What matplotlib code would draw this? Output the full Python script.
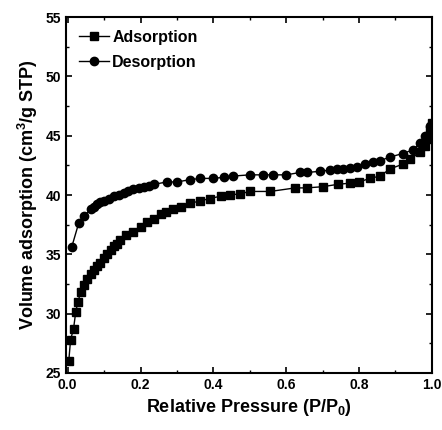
import numpy as np
import matplotlib
matplotlib.use('Agg')
import matplotlib.pyplot as plt
from matplotlib.ticker import MultipleLocator

plt.rcParams['font.family'] = ['Liberation Sans', 'DejaVu Sans']
plt.rcParams['font.weight'] = 'bold'
plt.rcParams['axes.labelweight'] = 'bold'
plt.rcParams['mathtext.default'] = 'regular'

# 吸附支 (P/P0, V)
ads_p = [0.003, 0.008, 0.016, 0.022, 0.028, 0.036, 0.045, 0.054, 0.063, 0.072, 0.081,
         0.09, 0.1, 0.109, 0.118, 0.127, 0.136, 0.145, 0.16, 0.18, 0.2, 0.218, 0.236,
         0.255, 0.27, 0.29, 0.31, 0.336, 0.364, 0.39, 0.42, 0.445, 0.474, 0.5,
         0.556, 0.625, 0.657, 0.70, 0.742, 0.775, 0.80, 0.83, 0.858, 0.885, 0.92,
         0.94, 0.967, 0.98, 0.99, 0.995, 1.0]
ads_v = [26.0, 27.8, 28.7, 30.1, 31.0, 31.8, 32.4, 32.9, 33.3, 33.7, 34.0,
         34.3, 34.7, 35.0, 35.4, 35.7, 35.9, 36.2, 36.6, 36.9, 37.3, 37.7, 38.0,
         38.4, 38.6, 38.8, 39.0, 39.3, 39.5, 39.7, 39.9, 40.0, 40.1, 40.3,
         40.3, 40.6, 40.6, 40.7, 40.9, 41.0, 41.1, 41.4, 41.6, 42.2, 42.6,
         43.0, 43.6, 44.1, 44.7, 45.5, 46.1]

# 脱附支
des_p = [0.011, 0.03, 0.044, 0.063, 0.072, 0.08, 0.09, 0.1, 0.113, 0.127, 0.14,
         0.154, 0.167, 0.18, 0.195, 0.21, 0.223, 0.236, 0.273, 0.30, 0.337, 0.364,
         0.40, 0.43, 0.455, 0.50, 0.537, 0.565, 0.60, 0.638, 0.657, 0.693, 0.72,
         0.74, 0.757, 0.775, 0.794, 0.816, 0.838, 0.858, 0.885, 0.92, 0.948,
         0.967, 0.98, 0.995]
des_v = [35.6, 37.6, 38.2, 38.8, 39.0, 39.2, 39.4, 39.5, 39.7, 39.9, 40.0,
         40.2, 40.3, 40.5, 40.6, 40.7, 40.8, 40.9, 41.1, 41.1, 41.3, 41.4,
         41.4, 41.5, 41.6, 41.7, 41.7, 41.7, 41.7, 41.9, 41.9, 42.0, 42.1,
         42.2, 42.2, 42.3, 42.4, 42.6, 42.8, 42.9, 43.2, 43.5, 43.8,
         44.4, 45.0, 45.8]

fig = plt.figure(figsize=(4.42, 4.30), dpi=100)
ax = fig.add_axes([0.149, 0.133, 0.828, 0.827])

ax.plot(ads_p, ads_v, 'k-s', ms=6, lw=1, label='Adsorption')
ax.plot(des_p, des_v, 'k-o', ms=6, lw=1, label='Desorption')

ax.set_xlim(-0.005, 1.0)
ax.set_ylim(25, 55)
ax.xaxis.set_major_locator(MultipleLocator(0.2))
ax.xaxis.set_minor_locator(MultipleLocator(0.1))
ax.yaxis.set_major_locator(MultipleLocator(5))
ax.yaxis.set_minor_locator(MultipleLocator(2.5))
ax.tick_params(which='both', direction='in', top=True, right=True, labelsize=10)
ax.tick_params(which='major', length=4, width=1.2)
ax.tick_params(which='minor', length=2, width=1)
for s in ax.spines.values():
    s.set_linewidth(1.5)

ax.set_xlabel('Relative Pressure (P/P$_0$)', fontsize=13)
ax.set_ylabel('Volume adsorption (cm$^3$/g STP)', fontsize=13)

ax.legend(loc='upper left', frameon=False, fontsize=11.5, handlelength=1.9,
          handletextpad=0.2, labelspacing=0.6, borderaxespad=0.4)

fig.savefig('out.png', dpi=100)
